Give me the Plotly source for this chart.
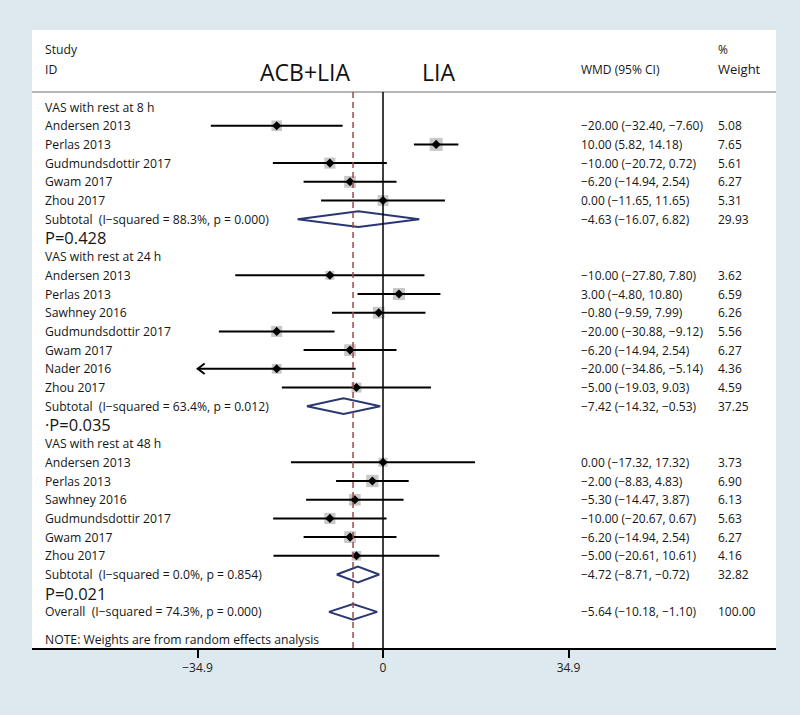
import plotly.graph_objects as go

# ---------------- data ----------------
group_titles = ["VAS with rest at 8 h", "VAS with rest at 24 h", "VAS with rest at 48 h"]

labels_8h = ["Andersen 2013", "Perlas 2013", "Gudmundsdottir 2017", "Gwam 2017", "Zhou 2017"]
wmd_8h = [-20.00, 10.00, -10.00, -6.20, 0.00]
lo_8h = [-32.40, 5.82, -20.72, -14.94, -11.65]
hi_8h = [-7.60, 14.18, 0.72, 2.54, 11.65]
wt_8h = [5.08, 7.65, 5.61, 6.27, 5.31]

labels_24h = ["Andersen 2013", "Perlas 2013", "Sawhney 2016", "Gudmundsdottir 2017",
              "Gwam 2017", "Nader 2016", "Zhou 2017"]
wmd_24h = [-10.00, 3.00, -0.80, -20.00, -6.20, -20.00, -5.00]
lo_24h = [-27.80, -4.80, -9.59, -30.88, -14.94, -34.86, -19.03]
hi_24h = [7.80, 10.80, 7.99, -9.12, 2.54, -5.14, 9.03]
wt_24h = [3.62, 6.59, 6.26, 5.56, 6.27, 4.36, 4.59]

labels_48h = ["Andersen 2013", "Perlas 2013", "Sawhney 2016", "Gudmundsdottir 2017",
              "Gwam 2017", "Zhou 2017"]
wmd_48h = [0.00, -2.00, -5.30, -10.00, -6.20, -5.00]
lo_48h = [-17.32, -8.83, -14.47, -20.67, -14.94, -20.61]
hi_48h = [17.32, 4.83, 3.87, 0.67, 2.54, 10.61]
wt_48h = [3.73, 6.90, 6.13, 5.63, 6.27, 4.16]

sub_wmd = [-4.63, -7.42, -4.72]
sub_lo = [-16.07, -14.32, -8.71]
sub_hi = [6.82, -0.53, -0.72]
sub_wt = [29.93, 37.25, 32.82]
sub_i2 = ["88.3%", "63.4%", "0.0%"]
sub_p = ["0.000", "0.012", "0.854"]
p_labels = ["P=0.428", "\u00b7P=0.035", "P=0.021"]

overall_wmd = -5.64
overall_lo = -10.18
overall_hi = -1.10
overall_wt = 100.00
overall_i2 = "74.3%"
overall_p = "0.000"

tick_vals = [-34.9, 0, 34.9]
tick_text = ["\u221234.9", "0", "34.9"]

# ---------------- styling ----------------
FONT = "Open Sans"
TXT = "#161616"
BG = "#dde8ef"
NAVY = "#2b3772"
RED = "#9e4a45"
SQ = "#b0b0b0"
ROW_TOP = -4.118
ROW_BOT = 28.93
LSIZE = 12.2


def fmt(v):
    s = f"{v:.2f}"
    return s.replace("-", "\u2212")


groups = [
    (labels_8h, wmd_8h, lo_8h, hi_8h, wt_8h),
    (labels_24h, wmd_24h, lo_24h, hi_24h, wt_24h),
    (labels_48h, wmd_48h, lo_48h, hi_48h, wt_48h),
]

fig = go.Figure()
ann = []


def left_text(row, text, size=LSIZE):
    ann.append(dict(x=0.0148, y=row, xref="paper", yref="y", text=text, showarrow=False,
                    xanchor="left", yanchor="middle",
                    font=dict(family=FONT, size=size, color=TXT)))


def right_text(row, est, lo, hi, wt):
    ann.append(dict(x=0.735, y=row, xref="paper", yref="y",
                    text=f"{fmt(est)} ({fmt(lo)}, {fmt(hi)})", showarrow=False,
                    xanchor="left", yanchor="middle",
                    font=dict(family=FONT, size=12, color=TXT)))
    ann.append(dict(x=0.919, y=row, xref="paper", yref="y", text=f"{wt:.2f}",
                    showarrow=False, xanchor="left", yanchor="middle",
                    font=dict(family=FONT, size=12, color=TXT)))


ci_x, ci_y = [], []
sq_x, sq_y, sq_s = [], [], []
dm_x, dm_y = [], []
arrow_x, arrow_y = [], []
H = 0.42  # diamond half height in rows

row = 0
for gi, (labs, est, lo, hi, wt) in enumerate(groups):
    left_text(row, group_titles[gi])
    row += 1
    for j in range(len(labs)):
        left_text(row, labs[j])
        right_text(row, est[j], lo[j], hi[j], wt[j])
        ci_x += [lo[j], hi[j], None]
        ci_y += [row, row, None]
        sq_x.append(est[j])
        sq_y.append(row)
        sq_s.append(4.7 * wt[j] ** 0.5)
        if labs[j] == "Nader 2016":
            arrow_x += [lo[j] + 1.3, lo[j], lo[j] + 1.3, None]
            arrow_y += [row - 0.28, row, row + 0.28, None]
        row += 1
    left_text(row, f"Subtotal\u00a0 (I\u2212squared = {sub_i2[gi]}, p = {sub_p[gi]})")
    right_text(row, sub_wmd[gi], sub_lo[gi], sub_hi[gi], sub_wt[gi])
    dm_x += [sub_lo[gi], sub_wmd[gi], sub_hi[gi], sub_wmd[gi], sub_lo[gi], None]
    dm_y += [row, row - H, row, row + H, row, None]
    row += 1
    left_text(row, p_labels[gi], size=16.5)
    row += 1

left_text(row, f"Overall\u00a0 (I\u2212squared = {overall_i2}, p = {overall_p})")
right_text(row, overall_wmd, overall_lo, overall_hi, overall_wt)
dm_x += [overall_lo, overall_wmd, overall_hi, overall_wmd, overall_lo, None]
dm_y += [row, row - H, row, row + H, row, None]
note_row = row + 1.5
left_text(note_row, "NOTE: Weights are from random effects analysis")

# header texts
HDR1, HDR2 = -3.05, -2.03
left_text(HDR1, "Study")
left_text(HDR2, "ID")
ann.append(dict(x=0.735, y=HDR2, xref="paper", yref="y", text="WMD (95% CI)", showarrow=False,
                xanchor="left", yanchor="middle", font=dict(family=FONT, size=12, color=TXT)))
ann.append(dict(x=0.919, y=HDR1, xref="paper", yref="y", text="%", showarrow=False,
                xanchor="left", yanchor="middle", font=dict(family=FONT, size=12, color=TXT)))
ann.append(dict(x=0.919, y=HDR2, xref="paper", yref="y", text="Weight", showarrow=False,
                xanchor="left", yanchor="middle", font=dict(family=FONT, size=13, color=TXT)))
ann.append(dict(x=0.367, y=-1.87, xref="paper", yref="y", text="ACB+LIA", showarrow=False,
                xanchor="center", yanchor="middle", font=dict(family=FONT, size=23, color="#111")))
ann.append(dict(x=0.547, y=-1.87, xref="paper", yref="y", text="LIA", showarrow=False,
                xanchor="center", yanchor="middle", font=dict(family=FONT, size=23, color="#111")))

# traces
fig.add_trace(go.Scatter(x=sq_x, y=sq_y, mode="markers", hoverinfo="skip",
                         marker=dict(symbol="square", size=sq_s, color=SQ, line=dict(width=0))))
fig.add_trace(go.Scatter(x=ci_x, y=ci_y, mode="lines", hoverinfo="skip",
                         line=dict(color="black", width=2)))
fig.add_trace(go.Scatter(x=arrow_x, y=arrow_y, mode="lines", hoverinfo="skip",
                         line=dict(color="black", width=2)))
fig.add_trace(go.Scatter(x=sq_x, y=sq_y, mode="markers", hoverinfo="skip",
                         marker=dict(symbol="diamond", size=7, color="black")))
fig.add_trace(go.Scatter(x=dm_x, y=dm_y, mode="lines", hoverinfo="skip",
                         line=dict(color=NAVY, width=2)))

HLINE = -0.8
shapes = [
    dict(type="line", xref="paper", yref="y", x0=0, x1=1, y0=HLINE, y1=HLINE,
         line=dict(color="#b5b5b5", width=2)),
    dict(type="line", xref="x", yref="y", x0=0, x1=0, y0=HLINE, y1=ROW_BOT,
         line=dict(color="black", width=1.5)),
    dict(type="line", xref="x", yref="y", x0=overall_wmd, x1=overall_wmd, y0=HLINE, y1=ROW_BOT,
         line=dict(color=RED, width=1.5, dash="6px,4px")),
]

fig.update_layout(
    width=800, height=715,
    margin=dict(l=32, r=24, t=30, b=67),
    paper_bgcolor=BG, plot_bgcolor="white",
    showlegend=False,
    annotations=ann, shapes=shapes,
    xaxis=dict(range=[-66.04, 73.94], tickvals=tick_vals, ticktext=tick_text,
               showgrid=False, zeroline=False, showline=True, linecolor="black", linewidth=2,
               ticks="outside", ticklen=8, tickwidth=2, tickcolor="black",
               tickfont=dict(family=FONT, size=12, color="#222"), fixedrange=True),
    yaxis=dict(range=[ROW_BOT, ROW_TOP], visible=False, fixedrange=True),
)

fig.write_html("out.html", config={"displayModeBar": False},
               post_script="document.body.style.margin='0';document.body.style.background='#dde8ef';")
